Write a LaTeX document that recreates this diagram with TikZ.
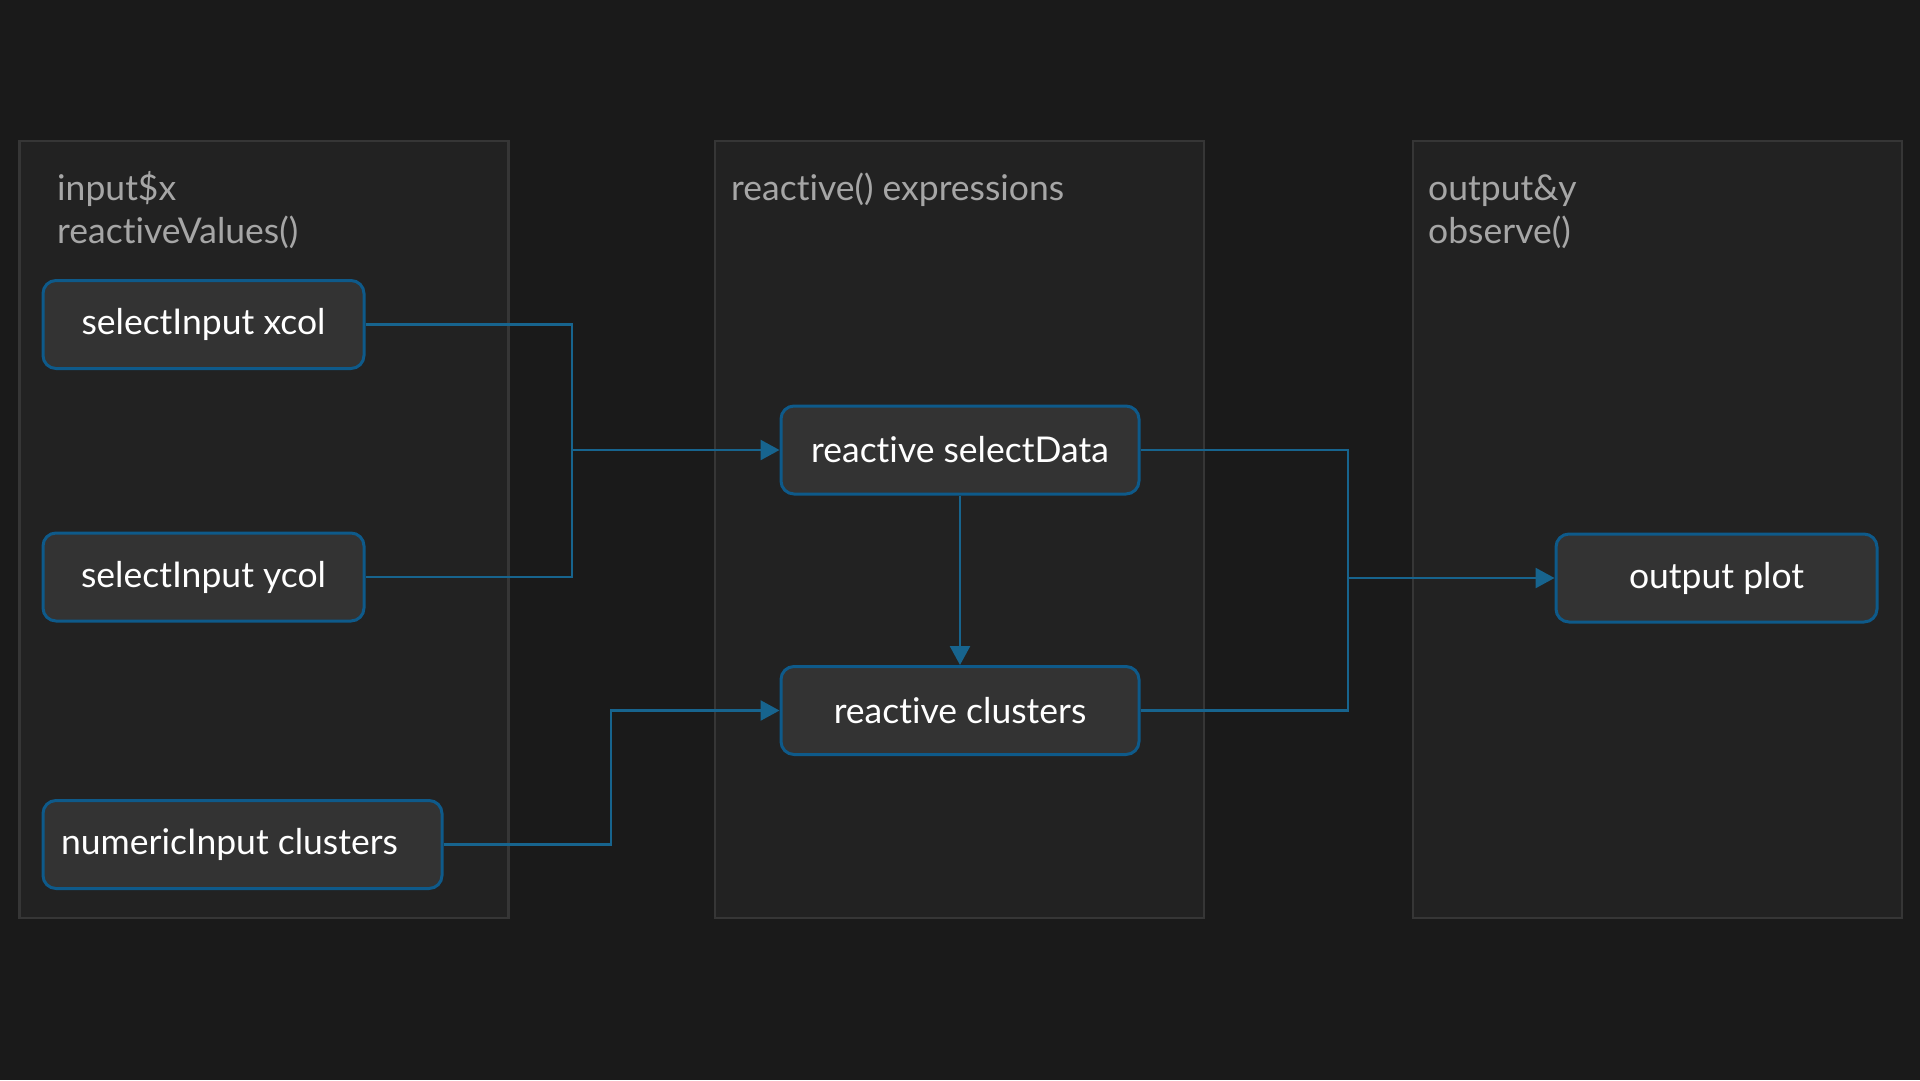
\documentclass[tikz,border=0pt]{standalone}
\usepackage{fontspec}
\setmainfont{Lato}[Ligatures=NoCommon]
\usetikzlibrary{arrows.meta}
\definecolor{pagebg}{HTML}{1A1A1A}
\definecolor{groupfill}{HTML}{222222}
\definecolor{groupline}{HTML}{363636}
\definecolor{nodefill}{HTML}{333333}
\definecolor{nodeline}{HTML}{0E5A8A}
\definecolor{wire}{HTML}{17648E}
\definecolor{titlegray}{HTML}{A6A6A6}
\tikzset{
  groupbox/.style={draw=groupline, fill=groupfill, line width=2.5pt,
    minimum width=489pt, minimum height=777pt, inner sep=0pt},
  grouptitle/.style={text=titlegray, font=\fontsize{35.5}{40}\selectfont,
    anchor=base west, inner sep=0pt},
  procbox/.style={draw=nodeline, fill=nodefill, line width=3pt,
    rounded corners=13pt, minimum height=88pt, inner sep=0pt,
    text=white, font=\fontsize{35.5}{40}\selectfont},
  flow/.style={draw=wire, line width=2.5pt,
    -{Triangle[length=19pt,width=20pt]}},
  link/.style={draw=wire, line width=2.5pt},
}
\begin{document}
\begin{tikzpicture}[x=1pt,y=-1pt]
  % canvas
  \fill[pagebg] (0,0) rectangle (1920,1080);
  \useasboundingbox (0,0) rectangle (1920,1080);

  % three column panels
  \node[groupbox] (gin)  at (263.8,529.5) {};
  \node[groupbox] (gmid) at (959.5,529.5) {};
  \node[groupbox] (gout) at (1657.5,529.5) {};

  % panel headings
  \node[grouptitle] (tin1)  at (57,200.5)  {input\$x};
  \node[grouptitle] (tin2)  at (57,243.5) {reactiveValues()};
  \node[grouptitle] (tmid)  at (731,200.5) {reactive() expressions};
  \node[grouptitle] (tout1) at (1428,200.5) {output\&y};
  \node[grouptitle] (tout2) at (1428,243.5) {observe()};

  % inputs
  \node[procbox, minimum width=321pt] (xcol) at (203.5,324.5) {selectInput xcol};
  \node[procbox, minimum width=321pt] (ycol) at (203.5,577) {selectInput ycol};
  \node[procbox, minimum width=399pt, text width=363pt, inner xsep=18pt,
        align=flush left] (ncl) at (242.5,844.5) {numericInput clusters};

  % reactive expressions
  \node[procbox, minimum width=358pt] (sel) at (960,450) {reactive selectData};
  \node[procbox, minimum width=358pt] (clu) at (960,710.5) {reactive clusters};

  % output
  \node[procbox, minimum width=321pt] (plot) at (1716.5,578) {output plot};

  % junction points of the elbow connectors
  \coordinate (jin)  at (572,450);
  \coordinate (jncl) at (611,710.5);
  \coordinate (jout) at (1348,578);

  \draw[link] (xcol.east) -| (jin);
  \draw[link] (ycol.east) -| (jin);
  \draw[flow] (jin) -- (sel.west);
  \draw[flow] (ncl.east) -| (jncl) -- (clu.west);
  \draw[flow] (sel.south) -- (clu.north);
  \draw[link] (sel.east) -| (jout);
  \draw[link] (clu.east) -| (jout);
  \draw[flow] (jout) -- (plot.west);
\end{tikzpicture}
\end{document}
